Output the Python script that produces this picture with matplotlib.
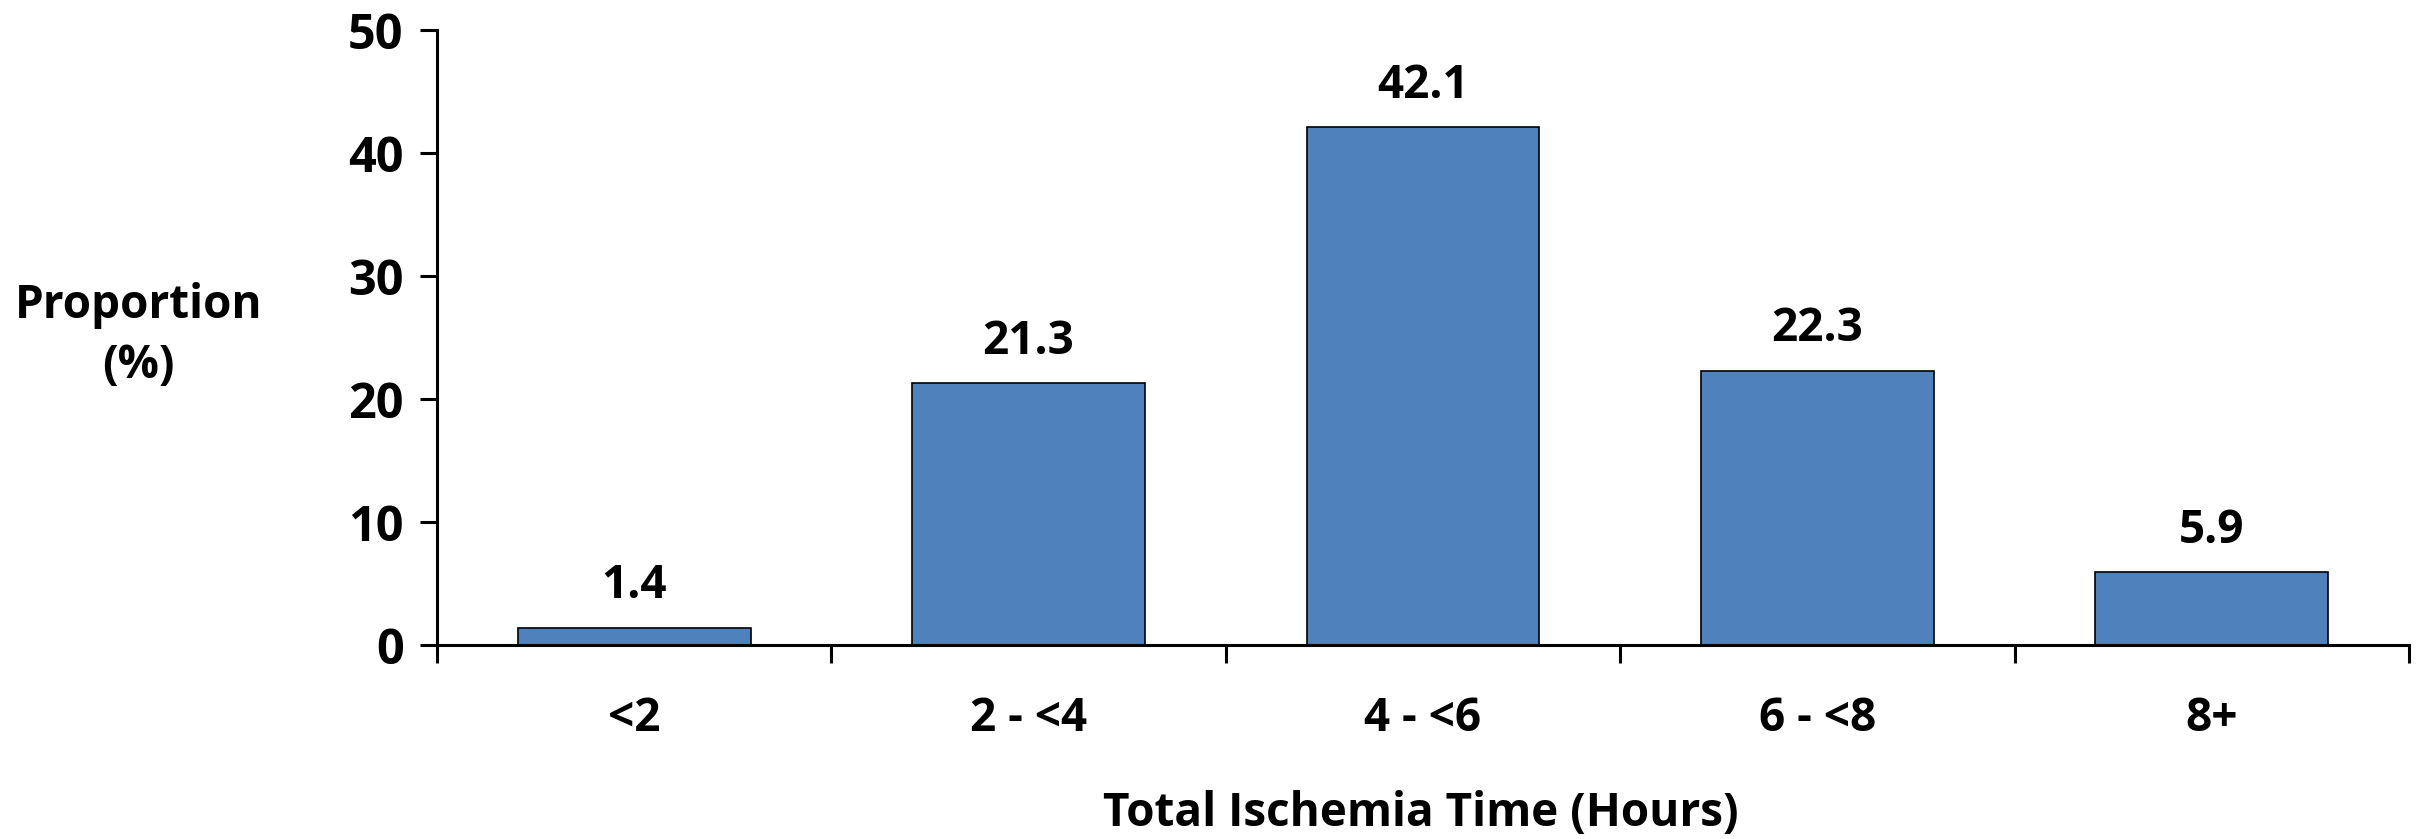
import matplotlib
matplotlib.use('Agg')
import matplotlib.pyplot as plt
import numpy as np

categories = ['<2', '2 - <4', '4 - <6', '6 - <8', '8+']
proportions = [1.4, 21.3, 42.1, 22.3, 5.9]
yticks = [0, 10, 20, 30, 40, 50]

plt.rcParams['font.family'] = ['Open Sans', 'DejaVu Sans']
plt.rcParams['font.weight'] = 'bold'

fig = plt.figure(figsize=(24.25, 8.39), dpi=100)
ax = fig.add_axes([0.1802, 0.2312, 0.8132, 0.7330])

x = np.arange(len(categories))
ax.bar(x, proportions, width=0.59, color='#4F81BD', edgecolor='black', linewidth=1.2)

for xi, v in zip(x, proportions):
    ax.text(xi, v + 1.5, f'{v:.1f}', ha='center', va='bottom', fontsize=33, fontweight='bold')

ax.set_xlim(-0.5, len(categories) - 0.5)
ax.set_ylim(0, 50)
ax.set_yticks(yticks)
ax.set_yticklabels([str(t) for t in yticks], fontsize=35, fontweight='bold')

ax.set_xticks(x)
ax.set_xticklabels(categories, fontsize=33, fontweight='bold')
ax.set_xticks(np.arange(len(categories) + 1) - 0.5, minor=True)
ax.tick_params(axis='x', which='major', length=0, pad=36)
ax.tick_params(axis='x', which='minor', length=13, width=2.2, direction='out')
ax.tick_params(axis='y', length=12, width=2.2, direction='out', pad=12)

for s in ['top', 'right']:
    ax.spines[s].set_visible(False)
for s in ['left', 'bottom']:
    ax.spines[s].set_linewidth(2.2)

fig.text(0.057, 0.60, 'Proportion\n(%)', ha='center', va='center',
         fontsize=33, fontweight='bold', linespacing=1.35)
fig.text(0.586, 0.030, 'Total Ischemia Time (Hours)', ha='center', va='center',
         fontsize=33, fontweight='bold')

fig.savefig('out.png', dpi=100)
